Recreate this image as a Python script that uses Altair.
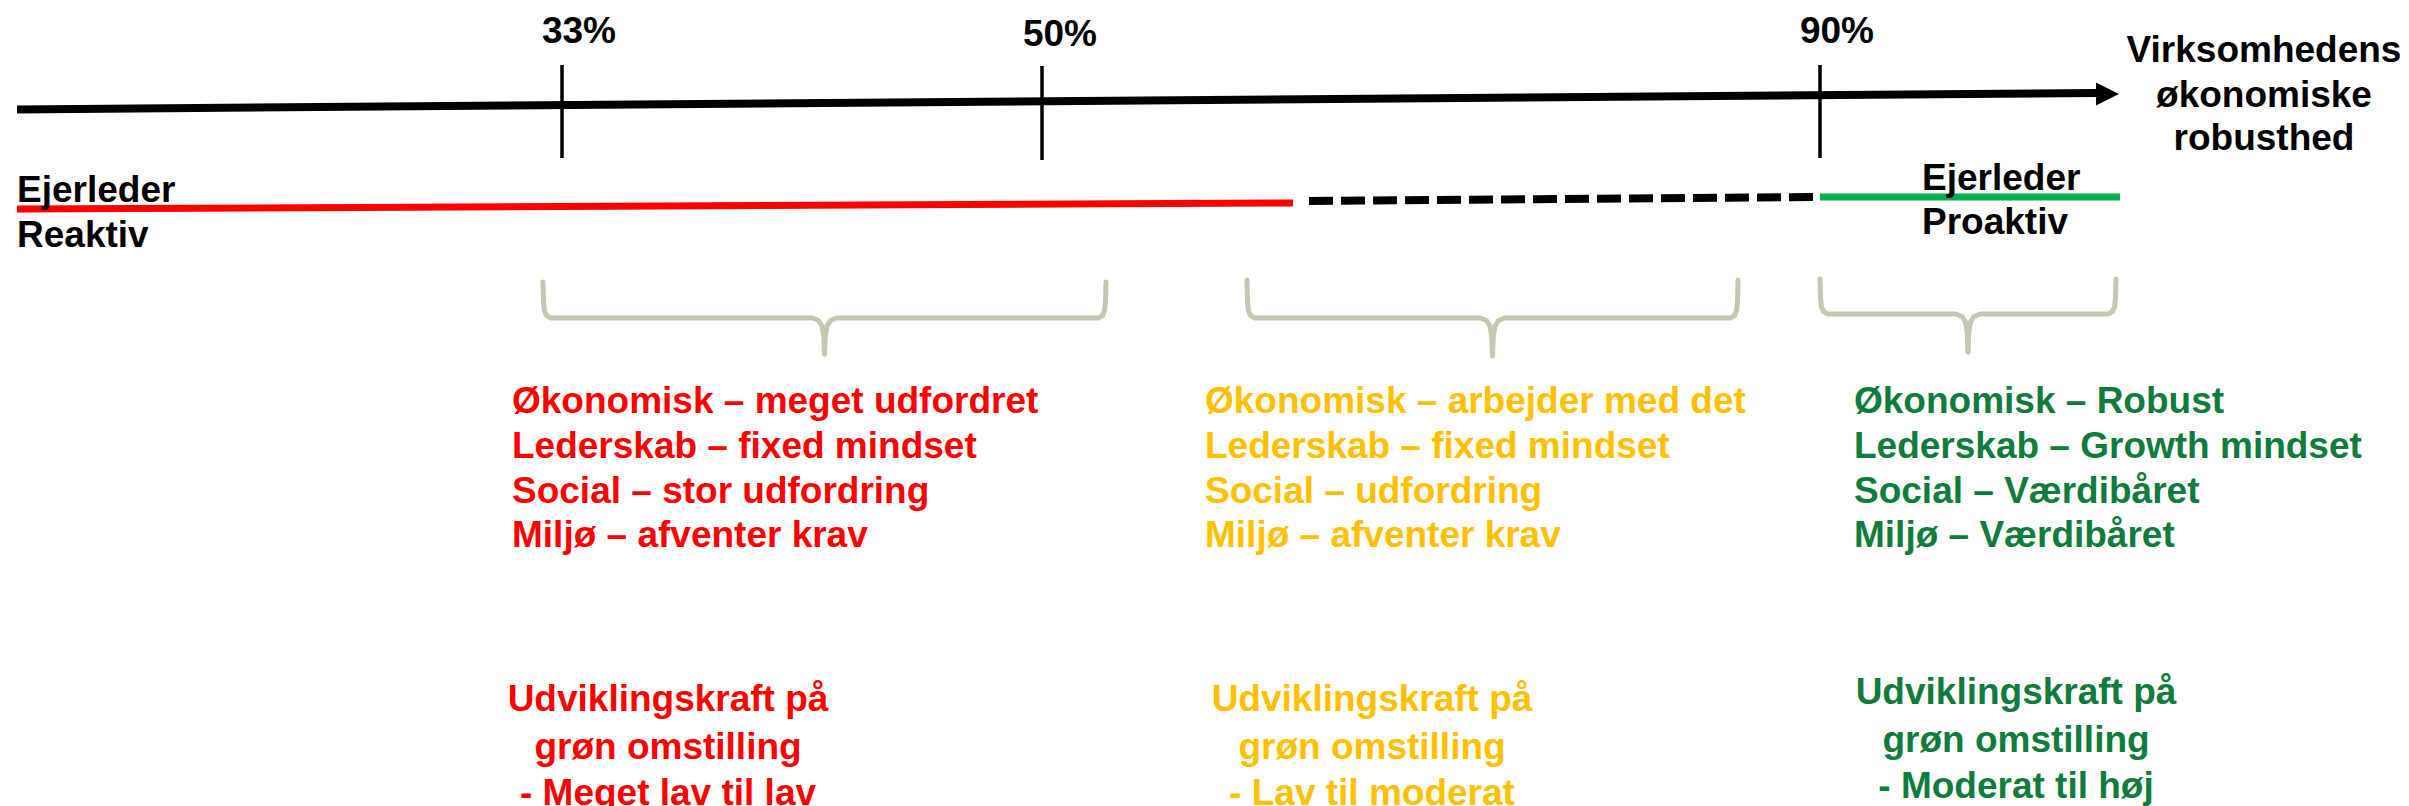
import altair as alt
import pandas as pd

# ---------------- data ----------------
# main axis (sloped arrow line)
axis_x = [17, 2098]
axis_y = [109.5, 93]
arrow_x = [2107.5]
arrow_y = [94]

# percentage ticks
tick_labels = ["33%", "50%", "90%"]
tick_x = [562, 1042, 1820]
tick_top = [65, 66, 65]
tick_bottom = [158, 160, 158]
tick_label_x = [579, 1060, 1837]
tick_label_y = [43, 46, 43]

# axis title
axis_title_lines = ["Virksomhedens", "økonomiske", "robusthed"]
axis_title_x = [2264, 2264, 2264]
axis_title_y = [62, 107, 150]

# owner-leader line segments: start x, start y, end x, end y
seg_names = ["reaktiv", "overgang", "proaktiv"]
seg_x1 = [17, 1309, 1820]
seg_y1 = [209, 201, 197]
seg_x2 = [1293, 1813, 2120]
seg_y2 = [203, 197, 197]
seg_colors = ["#FF0000", "#000000", "#00B050"]

# owner-leader labels
owner_labels = ["Ejerleder", "Reaktiv", "Ejerleder", "Proaktiv"]
owner_x = [17, 17, 1922, 1922]
owner_y = [202, 247, 190, 234]

# braces: left, right, top, bar, tip
brace_left = [543, 1247, 1820]
brace_right = [1106, 1738, 2116]
brace_top = [282, 280, 279]
brace_bar = [318, 318, 314]
brace_tip = [354, 356, 352]

# group texts
group_colors = ["#FF0000", "#FFC000", "#0F7B3D"]
group_lines = [
    ["Økonomisk – meget udfordret", "Lederskab – fixed mindset",
     "Social – stor udfordring", "Miljø – afventer krav"],
    ["Økonomisk – arbejder med det", "Lederskab – fixed mindset",
     "Social – udfordring", "Miljø – afventer krav"],
    ["Økonomisk – Robust", "Lederskab – Growth mindset",
     "Social – Værdibåret", "Miljø – Værdibåret"],
]
group_x = [512, 1205, 1854]
group_line_y = [413, 458, 503, 547]

kraft_lines = [
    ["Udviklingskraft på", "grøn omstilling", "- Meget lav til lav"],
    ["Udviklingskraft på", "grøn omstilling", "- Lav til moderat"],
    ["Udviklingskraft på", "grøn omstilling", "- Moderat til høj"],
]
kraft_x = [668, 1372, 2016]
kraft_y = [[711, 759, 805], [711, 759, 805], [704, 752, 798]]

# ---------------- tables ----------------
FONT = "Liberation Sans"
FS = 37

xs = alt.Scale(domain=[8, 2401], nice=False, zero=False)
ys = alt.Scale(domain=[8, 806], nice=False, zero=False, reverse=True)


def X(f="x"):
    return alt.X(f"{f}:Q", scale=xs, axis=None)


def Y(f="y"):
    return alt.Y(f"{f}:Q", scale=ys, axis=None)


axis_df = pd.DataFrame({"x": [axis_x[0]], "y": [axis_y[0]], "x2": [axis_x[1]], "y2": [axis_y[1]]})
axis_layer = alt.Chart(axis_df).mark_rule(color="black", strokeWidth=8, strokeCap="butt").encode(
    x=X(), y=Y(), x2="x2:Q", y2="y2:Q")

arrow_df = pd.DataFrame({"x": arrow_x, "y": arrow_y})
arrow_layer = alt.Chart(arrow_df).mark_point(
    shape="M -1 -1 L 1 0 L -1 1 Z", filled=True, size=529, color="black", opacity=1, strokeWidth=0
).encode(x=X(), y=Y())

tick_df = pd.DataFrame({"x": tick_x, "y": tick_top, "y2": tick_bottom})
tick_layer = alt.Chart(tick_df).mark_rule(color="black", strokeWidth=3.5).encode(
    x=X(), y=Y(), y2="y2:Q")

tick_lab_df = pd.DataFrame({"x": tick_label_x, "y": tick_label_y, "t": tick_labels})
tick_lab_layer = alt.Chart(tick_lab_df).mark_text(
    font=FONT, fontWeight="bold", fontSize=FS, align="center", baseline="alphabetic", color="black"
).encode(x=X(), y=Y(), text="t:N")

title_df = pd.DataFrame({"x": axis_title_x, "y": axis_title_y, "t": axis_title_lines})
title_layer = alt.Chart(title_df).mark_text(
    font=FONT, fontWeight="bold", fontSize=FS, align="center", baseline="alphabetic", color="black"
).encode(x=X(), y=Y(), text="t:N")

seg_df = pd.DataFrame({"name": seg_names, "x": seg_x1, "y": seg_y1, "x2": seg_x2,
                       "y2": seg_y2, "c": seg_colors})
solid = alt.Chart(seg_df).transform_filter("datum.name != 'overgang'").mark_rule(
    strokeWidth=7, strokeCap="butt").encode(
    x=X(), y=Y(), x2="x2:Q", y2="y2:Q", color=alt.Color("c:N", scale=None))
dashed = alt.Chart(seg_df).transform_filter("datum.name == 'overgang'").mark_rule(
    strokeWidth=8, strokeCap="butt", strokeDash=[24, 8]).encode(
    x=X(), y=Y(), x2="x2:Q", y2="y2:Q", color=alt.Color("c:N", scale=None))

owner_df = pd.DataFrame({"x": owner_x, "y": owner_y, "t": owner_labels})
owner_layer = alt.Chart(owner_df).mark_text(
    font=FONT, fontWeight="bold", fontSize=FS, align="left", baseline="alphabetic", color="black"
).encode(x=X(), y=Y(), text="t:N")

# brace paths built from brace parameters
rows = []
for i in range(len(brace_left)):
    L, R, T, B, P = brace_left[i], brace_right[i], brace_top[i], brace_bar[i], brace_tip[i]
    M = (L + R) / 2
    left_half = [(L, T), (L + 0.5, B - 16), (L + 1.5, B - 7), (L + 3.5, B - 2.5), (L + 8, B),
                 (M - 12, B), (M - 6, B + 2.5), (M - 2.5, B + 8), (M - 0.8, B + 18), (M, P)]
    right_half = [(M, P), (M + 0.8, B + 18), (M + 2.5, B + 8), (M + 6, B + 2.5), (M + 12, B),
                  (R - 8, B), (R - 3.5, B - 2.5), (R - 1.5, B - 7), (R - 0.5, B - 16), (R, T)]
    for k, (px, py) in enumerate(left_half):
        rows.append({"g": f"{i}L", "o": k, "x": px, "y": py})
    for k, (px, py) in enumerate(right_half):
        rows.append({"g": f"{i}R", "o": k, "x": px, "y": py})
brace_df = pd.DataFrame(rows)
brace_layer = alt.Chart(brace_df).mark_line(
    color="#C8C8B2", strokeWidth=5, strokeJoin="round", strokeCap="round", interpolate="linear"
).encode(x=X(), y=Y(), detail="g:N", order="o:Q")

grows = []
for i, lines in enumerate(group_lines):
    for j, t in enumerate(lines):
        grows.append({"x": group_x[i], "y": group_line_y[j], "t": t, "c": group_colors[i]})
group_df = pd.DataFrame(grows)
group_layer = alt.Chart(group_df).mark_text(
    font=FONT, fontWeight="bold", fontSize=FS, align="left", baseline="alphabetic"
).encode(x=X(), y=Y(), text="t:N", color=alt.Color("c:N", scale=None))

krows = []
for i, lines in enumerate(kraft_lines):
    for j, t in enumerate(lines):
        krows.append({"x": kraft_x[i], "y": kraft_y[i][j], "t": t, "c": group_colors[i]})
kraft_df = pd.DataFrame(krows)
kraft_layer = alt.Chart(kraft_df).mark_text(
    font=FONT, fontWeight="bold", fontSize=FS, align="center", baseline="alphabetic"
).encode(x=X(), y=Y(), text="t:N", color=alt.Color("c:N", scale=None))

chart = alt.layer(
    brace_layer, axis_layer, arrow_layer, tick_layer, tick_lab_layer, title_layer,
    solid, dashed, owner_layer, group_layer, kraft_layer
).properties(
    width=2393, height=798, padding=0, autosize=alt.AutoSizeParams(type="none"),
    background="white"
).configure_view(stroke=None)

chart.save("out.html", embed_options={"renderer": "svg", "actions": False})
